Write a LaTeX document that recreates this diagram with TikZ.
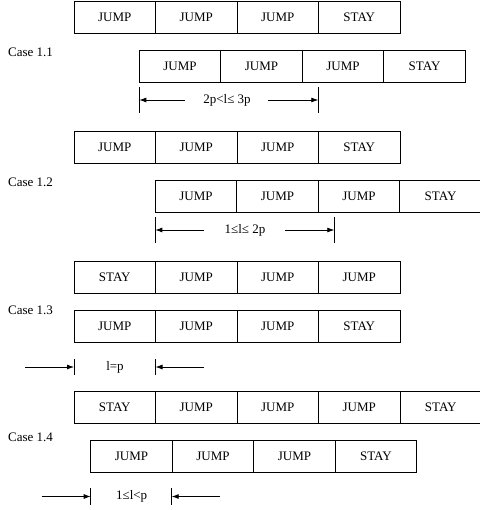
\documentclass[tikz,border=0pt]{standalone}
\usepackage{fontspec}
\setmainfont{Liberation Serif}
\usetikzlibrary{arrows.meta,positioning}
\tikzset{
	cell/.style={draw, line width=0.8pt, minimum width=81.5pt, minimum height=32pt,
		inner sep=0, outer sep=0},
	caselab/.style={anchor=west, inner sep=0},
	dimlab/.style={inner sep=0},
	bar/.style={line width=0.8pt},
	dim/.style={->, line width=0.8pt, >={Latex[length=7pt,width=5pt]}}
}
% one row of cells: name, left x, top y, labels
\newcommand{\cellrow}[4]{%
	\foreach \lab [count=\i] in {#4} {
		\node[cell] (#1-\i) at ({#2+(\i-0.5)*81.5},{#3+16}) {\lab};
	}}

\begin{document}
\begin{tikzpicture}[x=1pt, y=-1pt, font=\fontsize{13}{15}\selectfont]
				\useasboundingbox (0,0) rectangle (479,510);
				
				% Case 1.1
				\cellrow{r1}{74}{1}{JUMP,JUMP,JUMP,STAY}
				\cellrow{r2}{139.3}{50}{JUMP,JUMP,JUMP,STAY}
				\node[caselab] (c1) at (8,52) {Case 1.1};
				\node[dimlab] (d1) at (227,100) {2p<l≤ 3p};
				\coordinate (d1a) at (139.3,87); \coordinate (d1b) at (139.3,113);
				\coordinate (d1c) at (318.3,87); \coordinate (d1d) at (318.3,113);
				\coordinate (d1l) at (185,100); \coordinate (d1r) at (268,100);
				\draw[bar] (d1a) -- (d1b);
				\draw[bar] (d1c) -- (d1d);
				\draw[dim] (d1l) -- (d1a |- d1l);
				\draw[dim] (d1r) -- (d1c |- d1r);
				
				% Case 1.2
				\cellrow{r3}{74}{131}{JUMP,JUMP,JUMP,STAY}
				\cellrow{r4}{155.3}{180}{JUMP,JUMP,JUMP,STAY}
				\node[caselab] (c2) at (8,182) {Case 1.2};
				\node[dimlab] (d2) at (245,230) {1≤l≤ 2p};
				\coordinate (d2a) at (155.3,217); \coordinate (d2b) at (155.3,243);
				\coordinate (d2c) at (334.3,217); \coordinate (d2d) at (334.3,243);
				\coordinate (d2l) at (204,230); \coordinate (d2r) at (285,230);
				\draw[bar] (d2a) -- (d2b);
				\draw[bar] (d2c) -- (d2d);
				\draw[dim] (d2l) -- (d2a |- d2l);
				\draw[dim] (d2r) -- (d2c |- d2r);
				
				% Case 1.3
				\cellrow{r5}{74}{261}{STAY,JUMP,JUMP,JUMP}
				\cellrow{r6}{74}{310}{JUMP,JUMP,JUMP,STAY}
				\node[caselab] (c3) at (8,310) {Case 1.3};
				\node[dimlab] (d3) at (115,367) {l=p};
				\coordinate (d3a) at (74,359); \coordinate (d3b) at (74,375);
				\coordinate (d3c) at (155.5,359); \coordinate (d3d) at (155.5,375);
				\coordinate (d3l) at (25,367); \coordinate (d3r) at (204,367);
				\draw[bar] (d3a) -- (d3b);
				\draw[bar] (d3c) -- (d3d);
				\draw[dim] (d3l) -- (d3a |- d3l);
				\draw[dim] (d3r) -- (d3c |- d3r);
				
				% Case 1.4
				\cellrow{r7}{74}{391.5}{STAY,JUMP,JUMP,JUMP,STAY}
				\cellrow{r8}{90.7}{440}{JUMP,JUMP,JUMP,STAY}
				\node[caselab] (c4) at (8,437) {Case 1.4};
				\node[dimlab] (d4) at (131.7,496.5) {1≤l<p};
				\coordinate (d4a) at (90.7,488); \coordinate (d4b) at (90.7,505);
				\coordinate (d4c) at (171.7,488); \coordinate (d4d) at (171.7,505);
				\coordinate (d4l) at (41.7,496.5); \coordinate (d4r) at (220,496.5);
				\draw[bar] (d4a) -- (d4b);
				\draw[bar] (d4c) -- (d4d);
				\draw[dim] (d4l) -- (d4a |- d4l);
				\draw[dim] (d4r) -- (d4c |- d4r);
			\end{tikzpicture}
\end{document}
